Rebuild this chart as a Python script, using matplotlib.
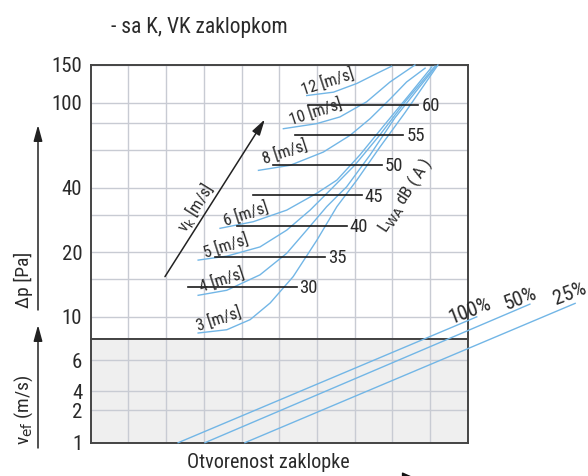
import numpy as np
import matplotlib
matplotlib.use('Agg')
import matplotlib.pyplot as plt

FONT = ['Liberation Sans Narrow', 'Roboto Condensed', 'Liberation Sans', 'DejaVu Sans']
plt.rcParams['font.family'] = FONT
plt.rcParams['mathtext.fontset'] = 'custom'
plt.rcParams['mathtext.rm'] = 'Liberation Sans Narrow'
plt.rcParams['mathtext.it'] = 'Liberation Sans Narrow'

# ---------------- data ----------------
title = '- sa K, VK zaklopkom'
xlabel = 'Otvorenost zaklopke'
dp_label = 'Δp [Pa]'
vef_label = r'v$_{\mathrm{ef}}$ (m/s)'
vk_label = r'v$_{\mathrm{k}}$ [m/s]'
lwa_label = r'L$_{\mathrm{WA}}$ dB ( A )'

dp_ticks = [10, 20, 40, 100, 150]
dp_minor = [15, 30, 60, 80]
vef_ticks = [1, 2, 4, 6]

# velocity curves (x = grid column, dp in Pa)
v3_x = [2.85, 3.61, 4.23, 4.76, 5.37, 6.00, 6.53, 7.06, 7.67, 8.34, 9.21]
v3_dp = [8.4, 8.7, 9.7, 11.6, 15.4, 22.8, 32.7, 43.5, 62, 90, 150]
v4_x = [2.85, 3.61, 4.49, 5.20, 5.73, 6.26, 6.79, 7.41, 8.07, 9.16]
v4_dp = [12.6, 13.3, 15.7, 19.8, 25.4, 32.7, 40.5, 57, 85, 148]
v5_x = [2.85, 3.61, 4.49, 5.20, 5.82, 6.44, 7.01, 7.67, 8.34, 9.13]
v5_dp = [18.4, 19.2, 21.2, 25.4, 31.5, 40.5, 51.2, 70.7, 101, 148]
v6_x = [3.43, 4.31, 5.20, 5.99, 6.53, 7.14, 7.81, 8.47, 9.05]
v6_dp = [25.9, 27.8, 31.5, 37.7, 43.5, 57, 79.5, 110, 147]
v8_x = [4.45, 5.29, 6.17, 6.88, 7.41, 7.94, 8.38, 8.87]
v8_dp = [48.3, 51.0, 58.8, 70.4, 84.2, 104, 125, 145]
v10_x = [5.11, 5.99, 6.61, 7.32, 7.94, 8.60]
v10_dp = [75.6, 79.8, 85.8, 101, 125, 150]
v12_x = [5.73, 6.44, 7.06, 7.59, 7.98]
v12_dp = [108, 112, 123, 137, 148]
velocity_labels = ['3 [m/s]', '4 [m/s]', '5 [m/s]', '6 [m/s]', '8 [m/s]', '10 [m/s]', '12 [m/s]']

# sound power level lines
lwa_levels = ['30', '35', '40', '45', '50', '55', '60']
lwa_dp = [13.8, 19.1, 26.6, 37.0, 51.3, 70.9, 97.9]
lwa_x_start = [2.59, 3.30, 3.87, 4.31, 4.84, 5.42, 5.77]
lwa_x_end = [5.46, 6.21, 6.79, 7.19, 7.72, 8.29, 8.69]

# damper opening lines (lower panel)
open_labels = ['100%', '50%', '25%']
open_x_start = [2.32, 3.03, 4.09]
open_x_end = [10.24, 11.65, 12.85]
open_v_start = [1, 1, 1]
open_v_end = [8.79, 9.61, 9.66]

# ---------------- layout ----------------
W, H = 588, 476
fig = plt.figure(figsize=(W / 100, H / 100), dpi=100)
L, R = 90.7 / W, 467.7 / W
TOP, MID, BOT = 1 - 65 / H, 1 - 339.3 / H, 1 - 442.7 / H
ax1 = fig.add_axes([L, MID, R - L, TOP - MID])
ax2 = fig.add_axes([L, BOT, R - L, MID - BOT])
ax2.set_zorder(3)
ax1.set_zorder(2)

GRID = '#c8cbd3'
SPINE = '#444444'
BLUE = '#72b6e6'
TXT = '#2a2a2a'

# lower panel scale (nomogram spacing of v_ef ticks)
kv = np.array([-100, 1, 2, 4, 6, 100], dtype=float)
ku = np.array([-32.7 * 101, 0, 32.7, 51.7, 82.7, 82.7 + 15.5 * 94])


def _fwd(v):
    return np.interp(v, kv, ku)


def _inv(u):
    return np.interp(u, ku, kv)


for ax in (ax1, ax2):
    ax.set_xlim(0, 10)
    ax.set_xticks(np.arange(1, 10))
    ax.tick_params(axis='x', length=0, labelbottom=False)
    ax.tick_params(axis='y', which='both', length=0, pad=6, labelsize=15, labelcolor=TXT)
    ax.grid(True, which='both', color=GRID, lw=1.0)
    ax.set_axisbelow(True)
    for s in ax.spines.values():
        s.set_color(SPINE)
        s.set_linewidth(1.4)

ax1.set_yscale('log')
ax1.set_ylim(7.85, 150)
ax1.set_yticks(dp_ticks)
ax1.set_yticklabels([str(t) for t in dp_ticks])
ax1.set_yticks(dp_minor, minor=True)
ax1.set_yticklabels([], minor=True)
ax1.set_facecolor('white')

ax2.set_yscale('function', functions=(_fwd, _inv))
ax2.set_ylim(1, 7.34)
ax2.set_yticks(vef_ticks)
ax2.set_yticklabels([str(t) for t in vef_ticks])
ax2.yaxis.set_minor_locator(matplotlib.ticker.NullLocator())
ax2.set_facecolor('#efefef')

# velocity curves
curves = [(v3_x, v3_dp), (v4_x, v4_dp), (v5_x, v5_dp), (v6_x, v6_dp),
          (v8_x, v8_dp), (v10_x, v10_dp), (v12_x, v12_dp)]
for cx, cy in curves:
    ax1.plot(cx, cy, color=BLUE, lw=1.0, solid_joinstyle='round', clip_on=False, zorder=3)

vel_label_pos = [(3.40, 9.75), (3.48, 14.8), (3.59, 21.4), (4.12, 30.2),
                 (5.15, 58.8), (5.98, 90.5), (6.29, 125)]
for lab, (px, py) in zip(velocity_labels, vel_label_pos):
    ax1.text(px, py, lab, fontsize=12, color=TXT, rotation=18,
             ha='center', va='center', rotation_mode='anchor', zorder=5)

# sound level lines
for lab, y, x0, x1 in zip(lwa_levels, lwa_dp, lwa_x_start, lwa_x_end):
    ax1.plot([x0, x1], [y, y], color='#1a1a1a', lw=1.2, zorder=4)
    ax1.text(x1 + 0.08, y * 0.985, lab, fontsize=13.5, color=TXT, ha='left', va='center', zorder=5)

# v_k arrow and text
ax1.annotate('', xy=(4.62, 83.6), xytext=(1.97, 15.4),
             arrowprops=dict(arrowstyle='-|>,head_length=0.8,head_width=0.22',
                             mutation_scale=12, color='#222222', lw=1.1,
                             shrinkA=0, shrinkB=0), zorder=5)
ax1.text(2.77, 32.6, vk_label, fontsize=12, color=TXT, rotation=58,
         ha='center', va='center', rotation_mode='anchor')
ax1.text(8.34, 37.0, lwa_label, fontsize=12.5, color=TXT, rotation=57,
         ha='center', va='center', rotation_mode='anchor')

# damper opening lines
for lab, x0, x1, v0, v1 in zip(open_labels, open_x_start, open_x_end, open_v_start, open_v_end):
    ax2.plot([x0, x1], [v0, v1], color=BLUE, lw=1.0, clip_on=False, zorder=4)

open_label_pos = [(10.06, 9.2), (11.39, 9.98), (12.71, 10.25)]
for lab, (px, py) in zip(open_labels, open_label_pos):
    ax2.text(px, py, lab, fontsize=15, color=TXT, rotation=21,
             ha='center', va='center', rotation_mode='anchor', clip_on=False, zorder=6)

# figure texts
fig.text(199 / W, 1 - 28 / H, title, fontsize=15.5, color=TXT, ha='center', va='center')
fig.text(268 / W, 1 - 462 / H, xlabel, fontsize=14.5, color=TXT, ha='center', va='center')
fig.text(23 / W, 1 - 280 / H, dp_label, fontsize=14, color=TXT, rotation=90, ha='center', va='center')
fig.text(24 / W, 1 - 410 / H, vef_label, fontsize=14, color=TXT, rotation=90, ha='center', va='center')

arrow_kw = dict(arrowstyle='-|>,head_length=0.8,head_width=0.22', mutation_scale=12,
                color='#222222', lw=1.1, shrinkA=0, shrinkB=0)
fig.add_artist(matplotlib.patches.FancyArrowPatch((38 / W, 1 - 310 / H), (38 / W, 1 - 125 / H),
                                                  transform=fig.transFigure, **arrow_kw))
fig.add_artist(matplotlib.patches.FancyArrowPatch((38 / W, 1 - 448 / H), (38 / W, 1 - 325 / H),
                                                  transform=fig.transFigure, **arrow_kw))
fig.add_artist(matplotlib.patches.FancyArrowPatch((300 / W, 1 - 481 / H), (422 / W, 1 - 481 / H),
                                                  transform=fig.transFigure,
                                                  arrowstyle='-|>,head_length=0.9,head_width=0.4',
                                                  mutation_scale=14, color='#111111', lw=1.1,
                                                  shrinkA=0, shrinkB=0))

fig.savefig('out.png', dpi=100)
